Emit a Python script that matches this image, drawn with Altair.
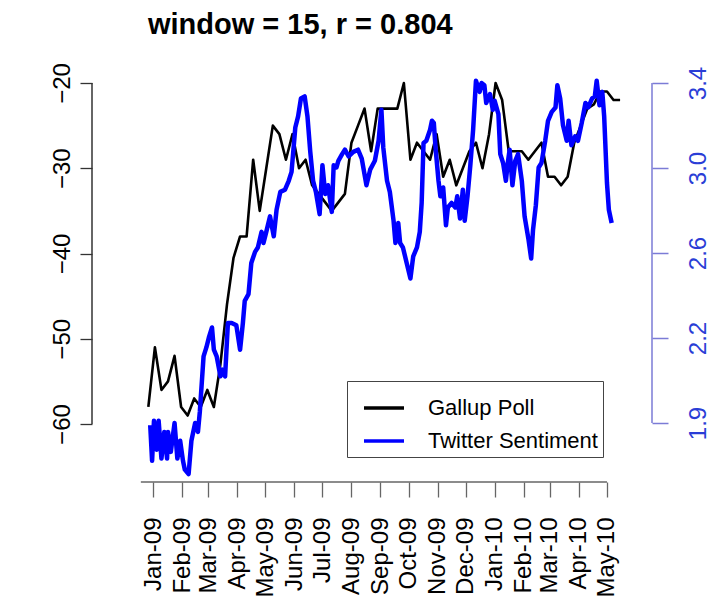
import altair as alt
import pandas as pd

# ---------------- data ----------------
series_names = ["Gallup Poll", "Twitter Sentiment"]
series_colors = ["#000000", "#0000ff"]

month_days = [0, 31, 59, 90, 120, 151, 181, 212, 243, 273, 304, 334, 365, 396, 424, 455, 485]
month_labels = ["Jan-09", "Feb-09", "Mar-09", "Apr-09", "May-09", "Jun-09", "Jul-09", "Aug-09",
                "Sep-09", "Oct-09", "Nov-09", "Dec-09", "Jan-10", "Feb-10", "Mar-10", "Apr-10", "May-10"]

left_ticks = [-60, -50, -40, -30, -20]
right_tick_vals = [1.87, 2.2525, 2.635, 3.0175, 3.4]
right_tick_labels = ["1.9", "2.2", "2.6", "3.0", "3.4"]

# Gallup poll, weekly (days counted from 2009-01-01)
gallup_start_day = -5
gallup_vals = [-58, -51, -56, -55, -52, -58, -59, -57, -58, -56,
               -58, -53, -46, -40.5, -38, -38, -29, -35, -30, -25,
               -26, -29, -26, -30, -29, -32, -33, -34, -35, -34,
               -33, -27, -25, -23, -28, -23, -23, -23, -23, -20,
               -29, -27, -28, -29, -26, -31, -29, -32, -30, -28,
               -27, -30, -26, -20, -22, -28, -28, -28, -29, -28,
               -27, -31, -31, -32, -31, -27, -25, -23, -22.5, -21,
               -21, -22, -22]

# Twitter sentiment (days counted from 2009-01-01)
twitter_days = [-3, -1, 1, 4, 6, 9, 12, 15, 16, 19,
                23, 26, 29, 32, 34, 38, 41, 45, 48, 50,
                54, 57, 60, 63, 65, 68, 72, 74, 77, 80,
                84, 89, 93, 96, 98, 102, 105, 109, 112, 116,
                118, 121, 125, 129, 132, 136, 141, 145, 148, 152,
                155, 158, 162, 165, 168, 171, 174, 178, 181, 184,
                187, 191, 193, 196, 198, 202, 205, 209, 214, 219,
                223, 228, 232, 237, 241, 244, 246, 250, 253, 257,
                259, 262, 264, 267, 271, 275, 278, 282, 285, 287,
                289, 292, 296, 298, 300, 302, 305, 307, 310, 313,
                315, 319, 323, 325, 328, 331, 333, 336, 339, 342,
                345, 349, 351, 354, 356, 360, 363, 365, 369, 371,
                374, 377, 379, 381, 384, 387, 390, 394, 397, 401,
                404, 406, 409, 412, 415, 419, 422, 426, 430, 432,
                435, 438, 442, 444, 447, 451, 454, 458, 462, 465,
                469, 472, 474, 477, 480, 482, 485, 487, 490]
twitter_vals = [1.86, 1.70, 1.88, 1.75, 1.88, 1.71, 1.83, 1.71, 1.83, 1.74,
                1.87, 1.71, 1.79, 1.70, 1.66, 1.64, 1.79, 1.87, 1.83, 1.92,
                2.17, 2.21, 2.26, 2.30, 2.20, 2.17, 2.08, 2.11, 2.08, 2.32,
                2.32, 2.31, 2.20, 2.32, 2.42, 2.45, 2.59, 2.64, 2.66, 2.73,
                2.68, 2.73, 2.80, 2.71, 2.83, 2.91, 2.92, 2.96, 3.00, 3.20,
                3.25, 3.33, 3.34, 3.25, 3.09, 2.96, 2.91, 2.81, 3.03, 2.90,
                2.94, 2.82, 3.03, 3.02, 3.05, 3.08, 3.10, 3.07, 3.09, 3.10,
                3.06, 2.94, 3.01, 3.05, 3.14, 3.28, 3.11, 2.96, 2.91, 2.78,
                2.68, 2.77, 2.68, 2.66, 2.59, 2.52, 2.62, 2.66, 2.73, 2.86,
                3.13, 3.14, 3.19, 3.23, 3.22, 3.10, 2.96, 2.89, 2.93, 2.76,
                2.84, 2.86, 2.84, 2.89, 2.79, 2.92, 2.78, 2.89, 3.03, 3.19,
                3.41, 3.36, 3.40, 3.39, 3.31, 3.35, 3.28, 3.32, 3.26, 3.08,
                3.04, 2.96, 3.04, 3.10, 2.94, 3.05, 3.08, 2.96, 2.80, 2.70,
                2.61, 2.74, 2.85, 3.02, 3.04, 3.14, 3.23, 3.27, 3.29, 3.39,
                3.33, 3.21, 3.14, 3.23, 3.12, 3.16, 3.14, 3.22, 3.31, 3.29,
                3.33, 3.34, 3.41, 3.30, 3.36, 3.25, 2.95, 2.83, 2.77]
assert len(twitter_days) == len(twitter_vals)

gallup = pd.DataFrame({
    "day": [gallup_start_day + 7 * k for k in range(len(gallup_vals))],
    "value": gallup_vals,
    "series": series_names[0],
})
twitter = pd.DataFrame({"day": twitter_days, "value": twitter_vals, "series": series_names[1]})
one = pd.DataFrame({"a": [0]})

# ---------------- layout / style ----------------
W, H = 560, 412
FONT = "Liberation Sans"

xs = alt.Scale(domain=[-65.2, 533.1], nice=False, zero=False)
yl = alt.Scale(domain=[-66.8, -18.475], nice=False, zero=False)
yr = alt.Scale(domain=[1.6045, 3.4585], nice=False, zero=False)

month_expr = "[" + ",".join("'%s'" % m for m in month_labels) + "][indexof([" + \
    ",".join(str(d) for d in month_days) + "], datum.value)]"
right_expr = "[" + ",".join("'%s'" % m for m in right_tick_labels) + "][indexof([" + \
    ",".join(str(v) for v in right_tick_vals) + "], datum.value)]"

x_axis = alt.Axis(values=month_days, labelExpr=month_expr, labelAngle=-90, labelAlign="right",
                  labelBaseline="middle", tickSize=15, tickColor="#666666", tickWidth=1.3,
                  labelFontSize=24, labelFont=FONT, labelColor="black", labelPadding=20,
                  domain=False, grid=False, title=None, labelOverlap=False, labelFlush=False)
yl_axis = alt.Axis(orient="left", values=left_ticks, labelAngle=-90, labelAlign="center",
                   labelBaseline="alphabetic", tickSize=12, tickColor="#333333", tickWidth=1.3,
                   labelFontSize=24, labelFont=FONT, labelColor="black", labelPadding=11,
                   domain=False, grid=False, title=None, labelOverlap=False, labelFlush=False)
yr_axis = alt.Axis(orient="right", values=right_tick_vals, labelExpr=right_expr, labelAngle=-90,
                   labelAlign="center", labelBaseline="top", tickSize=16, tickColor="#7b7bd6",
                   tickWidth=1.5, labelFontSize=24, labelFont=FONT, labelColor="#2a3dd6",
                   labelPadding=18, domain=False, grid=False, title=None, labelOverlap=False,
                   labelFlush=False)

color = alt.Color("series:N", scale=alt.Scale(domain=series_names, range=series_colors),
                  legend=alt.Legend(orient="none", legendX=255, legendY=311, title=None,
                                    symbolType="stroke", symbolSize=1600, symbolStrokeWidth=3.5,
                                    symbolOffset=10, labelFontSize=22, labelFont=FONT,
                                    labelColor="black", labelLimit=400,
                                    strokeColor="#444444", fillColor="white", padding=5,
                                    rowPadding=-10, labelOffset=22))

black = alt.Chart(gallup).mark_line(strokeWidth=2.6, strokeJoin="round").encode(
    x=alt.X("day:Q", scale=xs, axis=x_axis),
    y=alt.Y("value:Q", scale=yl, axis=yl_axis),
    color=color,
)
left_axis_line = alt.Chart(one).mark_rule(color="#333333", strokeWidth=1.5).encode(
    x=alt.value(0),
    y=alt.YDatum(-20, scale=yl, axis=yl_axis),
    y2=alt.Y2Datum(-60),
)
x_axis_line = alt.Chart(one).mark_rule(color="#666666", strokeWidth=1.5).encode(
    x=alt.XDatum(-13, scale=xs, axis=x_axis),
    x2=alt.X2Datum(485),
    y=alt.value(H),
)
left_layer = alt.layer(black, left_axis_line, x_axis_line)

blue = alt.Chart(twitter).mark_line(strokeWidth=4.5, strokeJoin="round").encode(
    x=alt.X("day:Q", scale=xs, axis=x_axis),
    y=alt.Y("value:Q", scale=yr, axis=yr_axis),
    color=color,
)
right_axis_line = alt.Chart(one).mark_rule(color="#7b7bd6", strokeWidth=1.5).encode(
    x=alt.value(W),
    y=alt.YDatum(3.4, scale=yr, axis=yr_axis),
    y2=alt.Y2Datum(1.87),
)
right_layer = alt.layer(blue, right_axis_line)

chart = alt.layer(left_layer, right_layer).resolve_scale(y="independent").properties(
    width=W, height=H,
    title=alt.TitleParams("window = 15, r = 0.804", fontSize=29, fontWeight="bold", font=FONT,
                          anchor="start", frame="group", dx=56, offset=0, baseline="alphabetic",
                          color="black"),
    padding={"left": 84, "top": 62, "right": 66, "bottom": 120},
    autosize="none",
).configure_view(stroke=None)

chart.save("out.html", embed_options={"renderer": "svg", "actions": False})
